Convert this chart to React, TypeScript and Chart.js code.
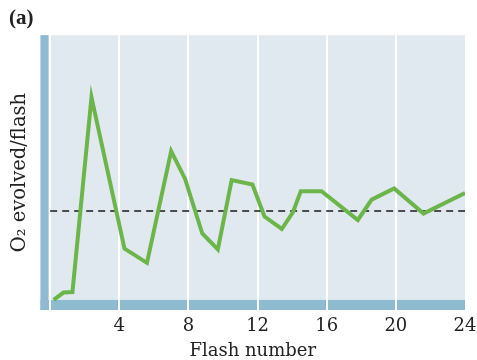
import React, { useEffect, useRef } from "react";
import { Chart, registerables } from "chart.js";

Chart.register(...registerables);

const flashNumber = [0.2, 0.77, 1.29, 2.39, 4.3, 5.6, 7.0, 7.8, 8.8, 9.7, 10.5, 11.7, 12.4, 13.4, 14.05, 14.5, 15.7, 17.8, 18.6, 19.9, 21.6, 24.0];
const o2Evolved = [0, 2.8, 3.0, 76.5, 19.4, 14.0, 56.2, 45.8, 25.1, 19.1, 45.3, 43.6, 31.5, 26.8, 33.2, 41.1, 41.1, 30.2, 37.9, 42.1, 32.6, 40.4];
const averageLevel = 33.6;
const averageSpan = [0, 24];
const xTicks = [0, 4, 8, 12, 16, 20, 24];
const xMin = -0.56;
const xMax = 24;
const yMin = -3.8;
const yMax = 100;
const barEnd = -0.1;

const SERIF = "'DejaVu Serif', serif";

const backgroundPlugin = {
  id: "panelBackground",
  beforeDraw(chart: any) {
    const { ctx, chartArea, scales } = chart;
    const x = scales.x;
    const y = scales.y;
    ctx.save();
    ctx.fillStyle = "#e1e9f0";
    ctx.fillRect(chartArea.left, chartArea.top, chartArea.right - chartArea.left, chartArea.bottom - chartArea.top);
    ctx.fillStyle = "#8fbbd0";
    const zeroY = y.getPixelForValue(0);
    ctx.fillRect(chartArea.left, zeroY, chartArea.right - chartArea.left, chartArea.bottom - zeroY);
    const barRight = x.getPixelForValue(barEnd);
    ctx.fillRect(chartArea.left, chartArea.top, barRight - chartArea.left, chartArea.bottom - chartArea.top);
    ctx.restore();
  },
};

export default function App() {
  const ref = useRef<HTMLCanvasElement | null>(null);
  useEffect(() => {
    if (!ref.current) return;
    const chart = new Chart(ref.current, {
      type: "line",
      data: {
        datasets: [
          {
            label: "O2",
            data: flashNumber.map((f, i) => ({ x: f, y: o2Evolved[i] })),
            borderColor: "#6bb54b",
            borderWidth: 4,
            pointRadius: 0,
            tension: 0,
            fill: false,
          },
          {
            label: "average",
            data: averageSpan.map((f) => ({ x: f, y: averageLevel })),
            borderColor: "#1a1a1a",
            borderWidth: 1.3,
            borderDash: [7, 5],
            pointRadius: 0,
            fill: false,
          },
        ],
      },
      options: {
        animation: false,
        responsive: true,
        maintainAspectRatio: false,
        layout: { padding: { left: 9, right: 0, top: 0, bottom: 0 } },
        plugins: {
          legend: { display: false },
          tooltip: { enabled: false },
          title: {
            display: true,
            text: "(a)",
            align: "start",
            color: "#222",
            font: { family: "'Liberation Serif', serif", size: 21, weight: "bold", lineHeight: 1.2 },
            padding: { top: 6, bottom: 4 },
          },
        },
        scales: {
          x: {
            type: "linear",
            min: xMin,
            max: xMax,
            afterBuildTicks: (axis: any) => {
              axis.ticks = xTicks.map((v) => ({ value: v }));
            },
            afterFit: (axis: any) => {
              axis.paddingRight = 12;
              axis.paddingLeft = 0;
            },
            ticks: {
              color: "#222",
              padding: 7,
              font: { family: SERIF, size: 18, lineHeight: 1 },
              callback: (v: any) => (v === 0 ? "" : String(v)),
              maxRotation: 0,
              autoSkip: false,
            },
            grid: {
              drawTicks: false,
              lineWidth: 2,
              color: (c: any) => (c.tick && c.tick.value === 24 ? "rgba(0,0,0,0)" : "#ffffff"),
            },
            border: { display: false },
            title: {
              display: true,
              text: "Flash number",
              color: "#222",
              font: { family: SERIF, size: 18, lineHeight: 1 },
              padding: { top: 0, bottom: 0 },
            },
          },
          y: {
            type: "linear",
            min: yMin,
            max: yMax,
            ticks: { display: false },
            grid: { display: false, drawTicks: false },
            border: { display: false },
            title: {
              display: true,
              text: "O₂ evolved/flash",
              color: "#222",
              font: { family: SERIF, size: 19.5, lineHeight: 1 },
              padding: { top: 1, bottom: 11 },
            },
          },
        },
      },
      plugins: [backgroundPlugin],
    });
    return () => chart.destroy();
  }, []);
  return (
    <div style={{ position: "fixed", left: 0, top: 0, width: 477, height: 360, background: "#fff" }}>
      <canvas ref={ref} />
    </div>
  );
}
